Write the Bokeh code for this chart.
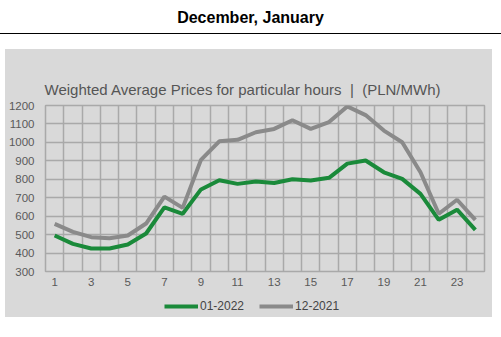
from bokeh.plotting import figure
from bokeh.models import Div, FixedTicker, Legend, LegendItem
from bokeh.layouts import column
from bokeh.embed import file_html
from bokeh.resources import INLINE

hours = list(range(1, 25))
jan_2022 = [495, 450, 425, 425, 446, 506, 648, 613, 745, 795, 775, 788, 780, 800, 793, 808, 885, 902, 838, 802, 721, 580, 635, 526]
dec_2021 = [558, 515, 486, 480, 495, 560, 706, 645, 905, 1006, 1014, 1055, 1073, 1120, 1073, 1110, 1195, 1148, 1064, 1001, 838, 613, 689, 580]
x_ticks = list(range(1, 24, 2))
y_ticks = list(range(300, 1201, 100))
series_names = ["01-2022", "12-2021"]
page_title = "December, January"
chart_title = "Weighted Average Prices for particular hours\u00a0\u00a0|\u00a0\u00a0(PLN/MWh)"

FONT = "Liberation Sans"
PANEL = "#d9d9d9"
GRID = "#a9a9a9"
GREEN = "#1a8a3a"
GRAY = "#8a8a8a"

header = Div(
    text=f'<div style="font-family:{FONT};font-weight:bold;font-size:16px;color:#000;'
         f'text-align:center;width:501px;height:34px;line-height:36px;'
         f'border-bottom:1px solid #000;">{page_title}</div>',
    width=501, height=49, margin=(0, 0, 0, 0),
)

p = figure(
    width=487, height=241,
    x_range=(0.5, 24.5), y_range=(300, 1200),
    output_backend="svg", toolbar_location=None,
    margin=(0, 0, 0, 0),
    min_border_left=39, min_border_right=8, min_border_top=56, min_border_bottom=19,
)
p.border_fill_alpha = 0
p.background_fill_alpha = 0
p.outline_line_color = GRID
p.outline_line_width = 1.5

p.title.text = chart_title
p.title.text_font = FONT
p.title.text_font_size = "15px"
p.title.text_font_style = "normal"
p.title.text_color = "#555555"
p.title.align = "left"
p.title.offset = -1
p.title.standoff = 16

p.xgrid.ticker = FixedTicker(ticks=[h + 0.5 for h in range(0, 25)])
p.ygrid.ticker = FixedTicker(ticks=y_ticks)
for g in (p.xgrid, p.ygrid):
    g.grid_line_color = GRID
    g.grid_line_width = 1.5

p.xaxis.ticker = FixedTicker(ticks=x_ticks)
p.yaxis.ticker = FixedTicker(ticks=y_ticks)
for ax in (p.xaxis, p.yaxis):
    ax.axis_line_color = None
    ax.major_tick_line_color = None
    ax.minor_tick_line_color = None
    ax.major_tick_out = 0
    ax.major_tick_in = 0
    ax.major_label_text_font = FONT
    ax.major_label_text_font_size = "11.5px"
    ax.major_label_text_color = "#595959"
p.xaxis.major_label_standoff = 6
p.yaxis.major_label_standoff = 11

p.line(hours, jan_2022, line_color=GREEN, line_width=4)
p.line(hours, dec_2021, line_color=GRAY, line_width=4)

# legend strip below the chart (series drawn out of view so only the legend shows)
lg = figure(
    width=487, height=27, x_range=(-2, -1), y_range=(-2, -1),
    x_axis_type=None, y_axis_type=None,
    output_backend="svg", toolbar_location=None,
    margin=(0, 0, 0, 0),
    min_border_left=0, min_border_right=0, min_border_top=0, min_border_bottom=0,
)
lg.outline_line_color = None
lg.border_fill_alpha = 0
lg.background_fill_alpha = 0
l1 = lg.line(hours, jan_2022, line_color=GREEN, line_width=4)
l2 = lg.line(hours, dec_2021, line_color=GRAY, line_width=4)
legend = Legend(
    items=[LegendItem(label=series_names[0], renderers=[l1]),
           LegendItem(label=series_names[1], renderers=[l2])],
    orientation="horizontal", location=(119, 1),
    border_line_color=None, background_fill_alpha=0,
    label_text_font=FONT, label_text_font_size="12px", label_text_color="#444444",
    glyph_width=34, glyph_height=20, label_standoff=2, spacing=15, padding=0, margin=0,
)
lg.add_layout(legend, "center")

panel = column(p, lg, spacing=0, margin=(0, 9, 0, 5),
               styles={"background-color": PANEL})
layout = column(header, panel, spacing=0)
open("out.html", "w").write(file_html(layout, INLINE))
